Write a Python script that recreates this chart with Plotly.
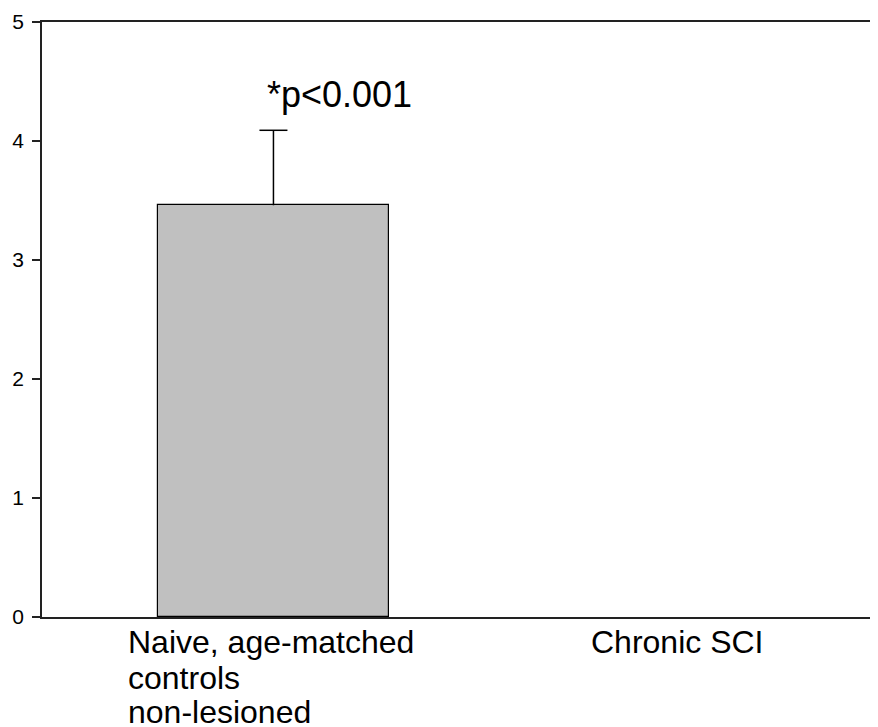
import plotly.graph_objects as go

categories = ["Naive, age-matched controls non-lesioned", "Chronic SCI"]
label_lines = [["Naive, age-matched", "controls", "non-lesioned"], ["Chronic SCI"]]
values = [3.46, 0]
err_plus = [0.63, 0]
y_ticks = [0, 1, 2, 3, 4, 5]
sig_text = "*p<0.001"

FONT = "Liberation Sans, Arial, sans-serif"
AX = "#222222"

fig = go.Figure()
fig.add_trace(go.Bar(
    x=categories, y=values, width=0.5,
    marker=dict(color="#c0c0c0", line=dict(color="#000000", width=[1.2, 0])),
    error_y=dict(type="data", symmetric=False, array=err_plus, arrayminus=[0, 0],
                 color="#000000", thickness=1.5, width=0, visible=True),
    showlegend=False,
))
# cap only at the top end of the error bar
cap_x = [c for c, e in zip(categories, err_plus) if e > 0]
cap_y = [v + e for v, e in zip(values, err_plus) if e > 0]
fig.add_trace(go.Scatter(
    x=cap_x, y=cap_y, mode="markers",
    marker=dict(symbol="line-ew", size=20, line=dict(color="#000000", width=1.5)),
    showlegend=False, hoverinfo="skip",
))

annotations = []
line_shifts = [0, -36, -70]
for cat, lines in zip(categories, label_lines):
    for i, t in enumerate(lines):
        annotations.append(dict(
            x=cat, y=0, xref="x", yref="y", text=t, showarrow=False,
            xanchor="left", yanchor="top", xshift=-147, yshift=-5 + line_shifts[i],
            font=dict(family=FONT, size=32, color="#000000"), align="left",
        ))
annotations.append(dict(
    x=categories[0], y=4.39, xref="x", yref="y", text=sig_text, showarrow=False,
    xanchor="left", yanchor="middle", xshift=-8,
    font=dict(family=FONT, size=36, color="#000000"),
))

# the page body adds an 8px margin; compensate so the plot lands where the reference has it
fig.update_layout(
    width=870, height=719,
    margin=dict(l=34, r=0, t=14, b=110),
    paper_bgcolor="white", plot_bgcolor="white",
    bargap=0,
    annotations=annotations,
    xaxis=dict(
        type="category", range=[-0.5, 1.306], showticklabels=False, ticks="",
        showline=True, linecolor=AX, linewidth=1.5, mirror=True, showgrid=False, zeroline=False,
        automargin=False,
    ),
    yaxis=dict(
        range=[0, 5], tickvals=y_ticks, ticks="outside", ticklen=8, tickwidth=1.5, tickcolor=AX,
        showline=True, linecolor=AX, linewidth=1.5, showgrid=False, zeroline=False,
        tickfont=dict(family=FONT, size=21, color="#000000"), ticklabelstandoff=4,
        automargin=False,
    ),
)

fig.write_html("out.html")
